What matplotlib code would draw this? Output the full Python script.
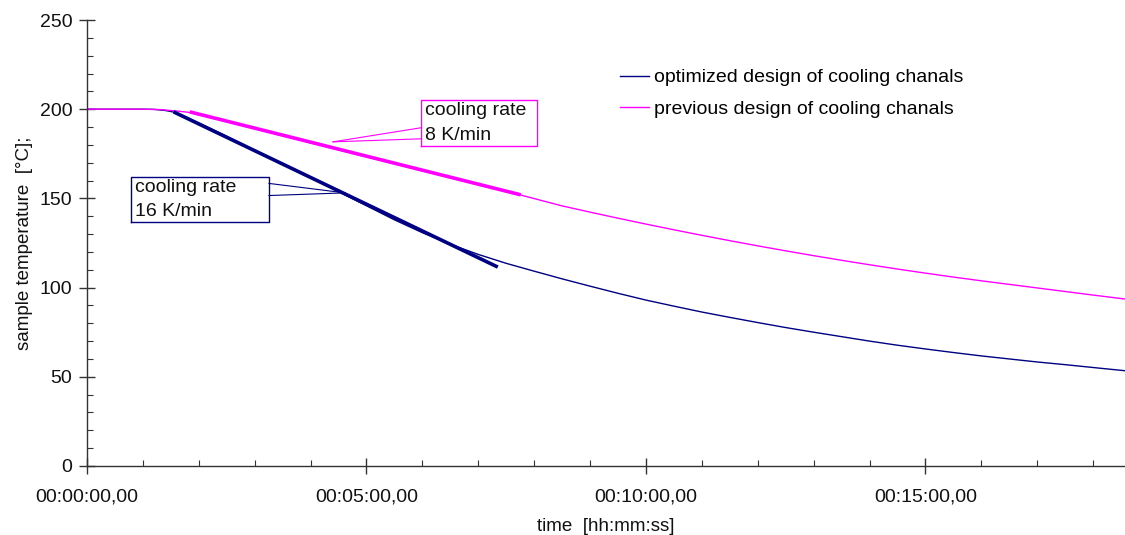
import matplotlib
matplotlib.use("Agg")
import matplotlib.pyplot as plt
from matplotlib.ticker import FuncFormatter, MultipleLocator

plt.rcParams['font.family'] = ['Liberation Sans', 'DejaVu Sans']

# time in minutes, temperature in °C
opt_t = [0, 0.5, 1.0, 1.2, 1.4, 1.55, 1.8, 2.0, 2.5, 3.0, 3.5, 4.0, 4.5, 5.0, 5.5, 6.0, 6.5,
         7.0, 7.5, 8.0, 8.5, 9.0, 9.5, 10.0, 10.5, 11.0, 11.5, 12.0, 12.5, 13.0, 13.5, 14.0,
         14.5, 15.0, 15.5, 16.0, 16.5, 17.0, 17.5, 18.0, 18.57]
opt_T = [200, 200, 200, 199.9, 199.3, 198.4, 195.2, 192.3, 184.8, 177.0, 169.3, 161.6, 153.8,
         145.9, 138.0, 130.8, 124.3, 118.6, 113.6, 109.2, 104.9, 100.8, 96.8, 93.0, 89.6, 86.3,
         83.3, 80.4, 77.6, 75.0, 72.5, 70.0, 67.7, 65.6, 63.6, 61.7, 60.0, 58.3, 56.8, 55.2, 53.4]

prev_t = [0, 0.5, 1.0, 1.3, 1.6, 1.84, 2.0, 2.5, 3.0, 3.5, 4.0, 4.5, 5.0, 5.5, 6.0, 6.5, 7.0,
          7.5, 8.0, 8.5, 9.0, 9.5, 10.0, 10.5, 11.0, 11.5, 12.0, 12.5, 13.0, 13.5, 14.0, 14.5,
          15.0, 15.5, 16.0, 16.5, 17.0, 17.5, 18.0, 18.57]
prev_T = [200, 200, 200, 199.8, 199.0, 198.2, 197.0, 193.2, 189.2, 185.2, 181.2, 177.3, 173.4,
          169.5, 165.6, 161.7, 157.8, 154.0, 149.9, 145.8, 142.3, 138.9, 135.6, 132.4, 129.3,
          126.3, 123.4, 120.6, 117.9, 115.3, 112.8, 110.4, 108.1, 105.9, 103.8, 101.8, 99.8,
          97.8, 95.8, 93.6]

# tangent lines (cooling rate)
opt_tan_t = [1.55, 7.35]
opt_tan_T = [198.5, 111.5]
prev_tan_t = [1.84, 7.76]
prev_tan_T = [198.5, 152.0]

navy = '#000080'
pink = '#FF00FF'
FS = 14

fig = plt.figure(figsize=(11.25, 5.35), dpi=100)
ax = fig.add_axes([0.0773, 0.129, 0.9227, 0.8336])

ax.plot(opt_t, opt_T, color=navy, lw=1.0, label='optimized design of cooling chanals')
ax.plot(prev_t, prev_T, color=pink, lw=1.0, label='previous design of cooling chanals')
ax.plot(opt_tan_t, opt_tan_T, color=navy, lw=2.6, solid_capstyle='butt')
ax.plot(prev_tan_t, prev_tan_T, color=pink, lw=2.6, solid_capstyle='butt')


def callout(x0, x1, y0, y1, xa, ya, yb, px, py, color, text):
    ax.plot([x0, x1, x1, x0, x0], [y0, y0, y1, y1, y0], color=color, lw=1.0)
    ax.plot([xa, px], [ya, py], color=color, lw=0.8)
    ax.plot([xa, px], [yb, py], color=color, lw=0.8)
    ax.text(x0 + 0.07, (y0 + y1) / 2, text, color='#111111', fontsize=FS,
            va='center', ha='left', linespacing=1.55)


callout(0.787, 3.256, 136.8, 162.0, 3.256, 158.4, 151.6, 4.615, 153.1, navy,
        'cooling rate\n16 K/min')
callout(5.975, 8.05, 179.4, 205.2, 5.975, 189.6, 183.4, 4.401, 181.7, pink,
        'cooling rate\n8 K/min')

ax.set_xlim(0, 18.57)
ax.set_ylim(0, 250)


def fmt(v, pos):
    total = int(round(v * 60))
    h = total // 3600
    m = (total % 3600) // 60
    s = total % 60
    return f'{h:02d}:{m:02d}:{s:02d},00'


ax.xaxis.set_major_locator(MultipleLocator(5))
ax.xaxis.set_minor_locator(MultipleLocator(1))
ax.xaxis.set_major_formatter(FuncFormatter(fmt))
ax.yaxis.set_major_locator(MultipleLocator(50))
ax.yaxis.set_minor_locator(MultipleLocator(10))

for s in ['top', 'right']:
    ax.spines[s].set_visible(False)
for s in ['left', 'bottom']:
    ax.spines[s].set_color('#333333')
    ax.spines[s].set_linewidth(1.0)

ax.tick_params(which='major', direction='inout', length=11, width=1.0, color='#333333',
               labelsize=FS, labelcolor='#111111')
ax.tick_params(axis='x', which='major', pad=11)
ax.tick_params(axis='y', which='major', pad=5)
ax.tick_params(which='minor', direction='in', length=4, width=0.8, color='#333333')

ax.set_xlabel('time  [hh:mm:ss]', fontsize=13.5, color='#111111', labelpad=9)
ax.set_ylabel('sample temperature  [°C];', fontsize=13.5, color='#111111', labelpad=5)

ax.legend(loc='upper left', bbox_to_anchor=(0.497, 0.93), frameon=False, fontsize=FS,
          handlelength=1.45, handletextpad=0.3, labelspacing=0.72)

fig.savefig('out.png', dpi=100)
